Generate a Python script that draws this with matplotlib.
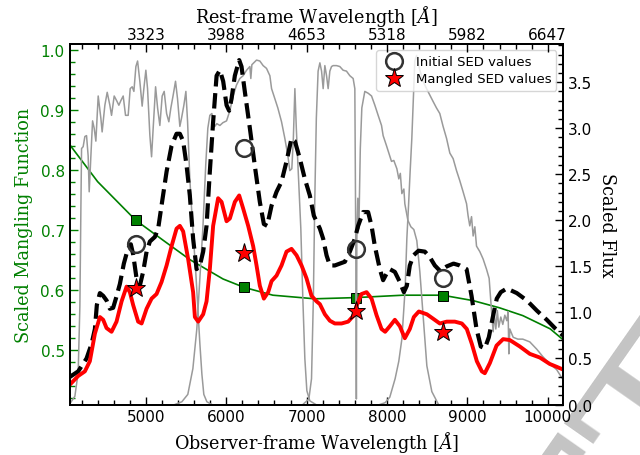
import numpy as np
import matplotlib
matplotlib.use("Agg")
import matplotlib.pyplot as plt
from matplotlib.ticker import MultipleLocator
from matplotlib.lines import Line2D

plt.rcParams['mathtext.fontset'] = 'dejavuserif'

# -----------------------------
# Filter transmission curves (scaled flux units)
# -----------------------------
filt1_wave = [4048, 4117, 4158, 4179, 4192, 4200, 4220, 4241, 4262, 4282, 4295, 4316, 4337,
              4357, 4378, 4407, 4440, 4456, 4490, 4519, 4552, 4573, 4606, 4636, 4664, 4689,
              4718, 4747, 4780, 4805, 4830, 4851, 4876, 4897, 4925, 4954, 4975, 5000, 5021,
              5050, 5071, 5091, 5121, 5146, 5174, 5203, 5228, 5258, 5286, 5311, 5340, 5369,
              5394, 5423, 5444, 5473, 5498, 5519, 5547, 5576, 5597, 5622, 5647, 5672, 5697,
              5721, 5759, 5821]
filt1_trans = [0.00, 0.09, 0.35, 1.07, 2.16, 2.78, 2.80, 2.91, 2.92, 2.70, 2.31, 2.70, 3.08,
               3.00, 2.86, 3.35, 3.11, 2.96, 3.25, 3.39, 3.25, 3.14, 3.35, 3.30, 3.25, 3.30,
               3.35, 3.14, 3.14, 3.43, 3.45, 3.40, 3.67, 3.73, 3.51, 3.24, 3.43, 3.63, 3.43,
               2.92, 2.69, 3.00, 3.45, 3.22, 3.03, 3.35, 3.40, 3.16, 3.07, 3.22, 3.36, 3.51,
               3.32, 3.02, 3.11, 3.25, 3.40, 3.07, 2.45, 2.02, 1.75, 1.42, 1.04, 0.66, 0.33,
               0.11, 0.03, 0.00]

filt2_wave = [5361, 5448, 5522, 5585, 5634, 5672, 5709, 5746, 5771, 5796, 5821, 5858, 5883,
              5921, 5958, 6004, 6045, 6086, 6128, 6169, 6210, 6253, 6294, 6306, 6319, 6377,
              6418, 6459, 6501, 6543, 6564, 6605, 6642, 6688, 6729, 6767, 6791, 6816, 6835,
              6854, 6872, 6891, 6928, 6953, 6978, 7003, 7040, 7115]
filt2_trans = [0.00, 0.03, 0.11, 0.39, 0.82, 1.37, 1.91, 2.62, 3.00, 3.14, 3.16, 3.02, 3.05,
               3.03, 3.06, 3.08, 3.19, 3.35, 3.47, 3.54, 3.57, 3.63, 3.67, 3.54, 3.69, 3.74,
               3.73, 3.68, 3.65, 3.57, 3.43, 3.32, 3.22, 3.07, 2.89, 2.70, 2.54, 2.56, 2.89,
               3.43, 3.00, 2.62, 1.91, 1.15, 0.50, 0.15, 0.04, 0.00]

filt3_wave = [6953, 7028, 7061, 7084, 7102, 7121, 7143, 7165, 7186, 7206, 7227, 7248, 7268,
              7289, 7310, 7330, 7372, 7413, 7454, 7496, 7538, 7579, 7600, 7612, 7619, 7625,
              7637, 7650, 7668, 7687, 7724, 7766, 7808, 7849, 7890, 7932, 7952, 7994, 8056,
              8085, 8123, 8147, 8166, 8185, 8210, 8222, 8260, 8297, 8334, 8371, 8409, 8455,
              8496, 8558, 8641]
filt3_trans = [0.00, 0.06, 0.28, 1.15, 2.24, 3.11, 3.62, 3.71, 3.62, 3.43, 3.68, 3.57, 3.43,
               3.62, 3.67, 3.68, 3.68, 3.67, 3.63, 3.62, 3.57, 3.54, 3.43, 1.69, 0.06, 1.80,
               2.24, 1.91, 2.78, 3.22, 3.40, 3.38, 3.35, 3.25, 3.14, 3.03, 2.92, 2.81, 2.64,
               2.65, 2.56, 2.45, 2.51, 2.29, 2.34, 2.18, 2.00, 1.93, 1.90, 1.78, 1.44, 0.90,
               0.42, 0.14, 0.00]

filt4_wave = [7911, 7977, 8035, 8101, 8147, 8185, 8226, 8247, 8268, 8288, 8309, 8328, 8346,
              8368, 8409, 8450, 8492, 8533, 8574, 8616, 8657, 8698, 8741, 8782, 8823, 8865,
              8906, 8947, 8990, 9009, 9030, 9052, 9072, 9093, 9114, 9155, 9196, 9238, 9271,
              9301, 9321, 9336, 9354, 9373, 9391, 9416, 9441, 9466, 9491, 9507, 9516, 9528,
              9570, 9628, 9690, 9777, 9864, 9939, 10026, 10110, 10190]
filt4_trans = [0.00, 0.02, 0.08, 0.28, 0.47, 0.71, 1.26, 1.80, 2.16, 2.53, 2.89, 3.32, 3.73,
               3.79, 3.63, 3.51, 3.43, 3.36, 3.29, 3.22, 3.16, 3.02, 2.89, 2.73, 2.67, 2.54,
               2.43, 2.31, 2.18, 2.05, 1.94, 2.04, 1.83, 1.93, 1.72, 1.66, 1.58, 1.47, 1.37,
               1.01, 0.79, 0.98, 0.82, 1.02, 0.84, 0.95, 0.87, 0.97, 0.91, 1.01, 0.55, 0.82,
               0.73, 0.71, 0.71, 0.68, 0.60, 0.52, 0.44, 0.38, 0.27]

# -----------------------------
# SEDs (scaled flux)
# -----------------------------
init_wave = [4055, 4158, 4262, 4325, 4366, 4390, 4428, 4469, 4511, 4552, 4593, 4627, 4677,
             4726, 4776, 4813, 4842, 4884, 4925, 4966, 5009, 5050, 5112, 5153, 5195, 5258,
             5320, 5382, 5423, 5464, 5506, 5547, 5588, 5631, 5672, 5713, 5755, 5796, 5837,
             5880, 5921, 5962, 6004, 6036, 6066, 6107, 6161, 6190, 6231, 6294, 6356, 6418,
             6468, 6509, 6564, 6626, 6688, 6750, 6812, 6854, 6916, 6978, 7040, 7090, 7165,
             7206, 7248, 7289, 7351, 7413, 7476, 7538, 7600, 7641, 7703, 7765, 7808, 7849,
             7911, 7952, 7994, 8035, 8098, 8160, 8210, 8247, 8284, 8330, 8392, 8471, 8533,
             8595, 8661, 8744, 8828, 8906, 8990, 9052, 9114, 9167, 9217, 9267, 9317, 9366,
             9416, 9491, 9615, 9740, 9864, 9988, 10100, 10190]
init_flux = [0.30, 0.36, 0.50, 0.66, 0.82, 1.08, 1.21, 1.18, 1.13, 1.04, 1.05, 1.15, 1.31,
             1.53, 1.69, 1.74, 1.63, 1.37, 1.29, 1.44, 1.66, 1.77, 1.82, 1.91, 2.16, 2.53,
             2.81, 2.94, 2.94, 2.86, 2.60, 2.27, 1.80, 1.47, 1.51, 1.66, 1.94, 2.53, 3.07,
             3.57, 3.63, 3.51, 3.25, 3.19, 3.32, 3.57, 3.74, 3.67, 3.40, 3.00, 2.59, 2.20,
             1.96, 1.94, 2.16, 2.31, 2.42, 2.64, 2.89, 2.86, 2.67, 2.45, 2.27, 2.05, 1.91,
             1.80, 1.62, 1.51, 1.51, 1.53, 1.55, 1.66, 1.80, 1.94, 2.09, 2.09, 1.94, 1.72,
             1.47, 1.35, 1.42, 1.47, 1.44, 1.33, 1.22, 1.29, 1.51, 1.62, 1.67, 1.66, 1.60,
             1.51, 1.45, 1.50, 1.53, 1.51, 1.47, 1.18, 0.82, 0.63, 0.61, 0.73, 0.95, 1.15,
             1.22, 1.26, 1.21, 1.13, 1.02, 0.92, 0.82, 0.75]

mang_wave = [4048, 4158, 4241, 4303, 4366, 4428, 4469, 4511, 4573, 4635, 4698, 4760, 4801,
             4842, 4904, 4947, 5009, 5071, 5133, 5195, 5258, 5320, 5382, 5423, 5464, 5526,
             5588, 5610, 5651, 5713, 5755, 5796, 5837, 5899, 5942, 6004, 6045, 6107, 6161,
             6210, 6273, 6335, 6377, 6418, 6468, 6522, 6564, 6626, 6688, 6750, 6812, 6875,
             6937, 6999, 7061, 7124, 7165, 7227, 7289, 7351, 7435, 7517, 7579, 7621, 7683,
             7746, 7808, 7870, 7932, 7977, 8035, 8098, 8160, 8222, 8284, 8334, 8396, 8496,
             8577, 8657, 8744, 8844, 8931, 8993, 9055, 9118, 9180, 9217, 9280, 9363, 9445,
             9528, 9653, 9777, 9902, 10026, 10110, 10190]
mang_flux = [0.21, 0.31, 0.36, 0.47, 0.77, 0.95, 0.92, 0.83, 0.79, 0.90, 1.12, 1.28, 1.22,
             1.08, 0.90, 0.88, 1.04, 1.15, 1.20, 1.33, 1.51, 1.72, 1.91, 1.94, 1.88, 1.58,
             1.22, 0.95, 0.90, 0.98, 1.12, 1.47, 1.94, 2.24, 2.20, 1.99, 2.02, 2.20, 2.27,
             2.13, 1.94, 1.72, 1.51, 1.29, 1.15, 1.22, 1.34, 1.40, 1.51, 1.66, 1.69, 1.62,
             1.51, 1.37, 1.18, 1.12, 1.09, 0.98, 0.91, 0.88, 0.88, 0.90, 0.96, 1.07, 1.20,
             1.22, 1.15, 0.97, 0.82, 0.79, 0.85, 0.92, 0.85, 0.72, 0.82, 0.95, 1.01, 0.98,
             0.93, 0.88, 0.90, 0.90, 0.88, 0.82, 0.66, 0.47, 0.36, 0.34, 0.45, 0.64, 0.71,
             0.70, 0.63, 0.55, 0.51, 0.44, 0.41, 0.38]

# -----------------------------
# Mangling function (left axis)
# -----------------------------
func_wave = [4050, 4400, 4872, 5240, 5550, 5960, 6223, 6580, 7100, 7612, 8200, 8691, 9070,
             9400, 9690, 10030, 10190]
func_vals = [0.842, 0.780, 0.716, 0.680, 0.650, 0.618, 0.604, 0.591, 0.585, 0.587, 0.591,
             0.591, 0.582, 0.570, 0.557, 0.535, 0.517]

# -----------------------------
# Photometric points
# -----------------------------
phot_wave = [4872, 6223, 7612, 8691]
init_phot = [1.74, 2.78, 1.69, 1.37]
mang_phot = [1.26, 1.64, 1.02, 0.79]
func_phot = [0.716, 0.604, 0.587, 0.590]

obs_ticks = [5000, 6000, 7000, 8000, 9000, 10000]
rest_labels = ['3323', '3988', '4653', '5318', '5982', '6647']

xlim = (4050, 10190)

# -----------------------------
# Plot
# -----------------------------
fig = plt.figure(figsize=(6.4, 4.56), dpi=100)
ax = fig.add_axes([0.1086, 0.1107, 0.7711, 0.7917])
ax2 = ax.twinx()
axt = ax.twiny()

grey = '#9a9a9a'
for w, t in [(filt1_wave, filt1_trans), (filt2_wave, filt2_trans),
             (filt3_wave, filt3_trans), (filt4_wave, filt4_trans)]:
    ax2.plot(w, t, color=grey, lw=1.1, zorder=1)

ax2.plot(init_wave, init_flux, color='k', ls='--', lw=3, zorder=3)
ax2.plot(mang_wave, mang_flux, color='red', lw=2.8, zorder=3)
ax2.plot(phot_wave, init_phot, 'o', ms=12, mfc='none', mec='#333333', mew=1.8, zorder=5)
ax2.plot(phot_wave, mang_phot, '*', ms=14, mfc='red', mec='k', mew=0.7, zorder=5)

ax.plot(func_wave, func_vals, color='green', lw=1.2, zorder=2)
ax.plot(phot_wave, func_phot, 's', ms=7.5, mfc='green', mec='k', mew=0.7, zorder=4)

ax.set_xlim(*xlim)
axt.set_xlim(*xlim)
ax.set_ylim(0.409, 1.010)
ax2.set_ylim(0.0, 3.92)

# ticks
ax.xaxis.set_major_locator(MultipleLocator(1000))
ax.xaxis.set_minor_locator(MultipleLocator(200))
ax.yaxis.set_major_locator(MultipleLocator(0.1))
ax.yaxis.set_minor_locator(MultipleLocator(0.02))
ax2.yaxis.set_major_locator(MultipleLocator(0.5))
ax2.yaxis.set_minor_locator(MultipleLocator(0.1))
axt.set_xticks(obs_ticks)
axt.set_xticklabels(rest_labels)
axt.xaxis.set_minor_locator(MultipleLocator(200))

ax.tick_params(axis='x', which='both', direction='in', top=False, labelsize=11)
ax.tick_params(axis='y', which='both', direction='in', colors='green', labelsize=11)
ax.tick_params(which='major', length=6, width=1)
ax.tick_params(which='minor', length=3.5, width=1)
ax2.tick_params(axis='y', which='both', direction='in', labelsize=11)
ax2.tick_params(which='major', length=6, width=1)
ax2.tick_params(which='minor', length=3.5, width=1)
axt.tick_params(axis='x', which='both', direction='in', labelsize=11, pad=1)
axt.tick_params(which='major', length=6, width=1)
axt.tick_params(which='minor', length=3.5, width=1)

for a in (ax, ax2, axt):
    for s in a.spines.values():
        s.set_linewidth(1.4)

ax.set_xlabel(r'Observer-frame Wavelength [$\AA$]', family='DejaVu Serif', fontsize=12.7,
              labelpad=3)
axt.set_xlabel(r'Rest-frame Wavelength [$\AA$]', family='DejaVu Serif', fontsize=12.7,
               labelpad=4)
ax.set_ylabel('Scaled Mangling Function', family='DejaVu Serif', fontsize=12.7, color='green',
              labelpad=5)
ax2.set_ylabel('Scaled Flux', family='DejaVu Serif', fontsize=12.7, rotation=270, labelpad=17)

handles = [Line2D([], [], ls='none', marker='o', ms=12, mfc='none', mec='#333333', mew=1.8),
           Line2D([], [], ls='none', marker='*', ms=14, mfc='red', mec='k', mew=0.7)]
ax2.legend(handles, ['Initial SED values', 'Mangled SED values'], loc='upper right',
           fontsize=9.5, handletextpad=0.6, borderpad=0.4, labelspacing=0.3)

# draft watermark, drawn behind the axes
fig.text(0.78, -0.46, 'DRAFT', rotation=55, fontsize=150, color='#c4c4c4',
         family='DejaVu Serif', ha='center', va='center', zorder=-5)

fig.savefig('out.png', dpi=100)
